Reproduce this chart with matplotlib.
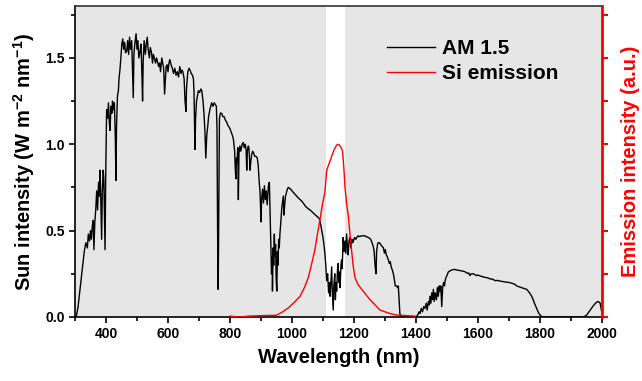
import matplotlib
matplotlib.use("Agg")
import matplotlib.pyplot as plt
from matplotlib.ticker import MultipleLocator, NullFormatter

# AM 1.5 solar spectrum (wavelength nm, W m-2 nm-1)
am15_nm = [300, 305, 310, 320, 330, 335, 340, 343, 347, 350, 353, 356, 359, 361, 364, 367, 370, 373, 376, 379,
           381, 383, 386, 388, 391, 393, 395, 397, 399, 402, 405, 408, 411, 413, 416, 419, 421, 424, 427, 430,
           432, 434, 437, 440, 442, 445, 448, 451, 454, 457, 460, 463, 467, 470, 473, 476, 479, 483, 486, 488,
           490, 493, 497, 500, 503, 506, 510, 513, 516, 518, 520, 523, 527, 530, 533, 536, 540, 543, 547, 550,
           553, 557, 560, 563, 566, 570, 573, 576, 580, 583, 586, 589, 591, 594, 597, 600, 603, 606, 610, 614,
           618, 622, 626, 630, 634, 638, 642, 645, 648, 652, 655, 658, 660, 664, 668, 671, 675, 679, 682, 684,
           687, 689, 692, 695, 698, 702, 706, 709, 713, 716, 719, 722, 725, 728, 731, 735, 738, 741, 745, 749,
           753, 756, 758, 760, 762, 764, 766, 769, 773, 777, 781, 785, 789, 793, 797, 800, 804, 808, 811, 815,
           817, 819, 821, 823, 825, 827, 829, 832, 835, 839, 843, 846, 849, 852, 854, 856, 859, 861, 863, 865,
           867, 870, 873, 876, 880, 884, 888, 891, 894, 897, 900, 902, 905, 908, 911, 914, 917, 920, 924, 927,
           930, 932, 934, 936, 937, 939, 941, 943, 945, 947, 949, 951, 953, 955, 957, 959, 961, 964, 967, 970,
           972, 974, 976, 979, 982, 985, 988, 992, 996, 1000, 1005, 1010, 1015, 1020, 1026, 1032, 1038, 1044, 1050, 1058,
           1064, 1070, 1076, 1082, 1088, 1092, 1096, 1100, 1103, 1106, 1109, 1112, 1115, 1118, 1121, 1123, 1126, 1128, 1130, 1133,
           1135, 1138, 1140, 1142, 1144, 1147, 1149, 1151, 1153, 1155, 1158, 1160, 1162, 1165, 1168, 1171, 1173, 1176, 1179, 1181,
           1184, 1187, 1190, 1193, 1196, 1198, 1202, 1206, 1209, 1213, 1218, 1224, 1230, 1235, 1240, 1246, 1251, 1255, 1258, 1262,
           1265, 1268, 1271, 1273, 1276, 1278, 1282, 1286, 1290, 1295, 1298, 1301, 1304, 1307, 1311, 1314, 1317, 1320, 1324, 1327,
           1330, 1333, 1337, 1341, 1343, 1346, 1348, 1352, 1400, 1405, 1410, 1413, 1417, 1421, 1425, 1429, 1433, 1436, 1440, 1443,
           1445, 1448, 1451, 1454, 1456, 1459, 1462, 1466, 1469, 1472, 1475, 1477, 1480, 1483, 1486, 1489, 1492, 1494, 1497, 1500,
           1504, 1508, 1512, 1516, 1520, 1526, 1532, 1538, 1545, 1553, 1560, 1566, 1570, 1574, 1578, 1585, 1590, 1595, 1600, 1606,
           1612, 1620, 1628, 1634, 1639, 1645, 1650, 1656, 1662, 1671, 1680, 1690, 1700, 1710, 1718, 1725, 1732, 1740, 1748, 1757,
           1764, 1770, 1776, 1782, 1789, 1795, 1800, 1806, 1812, 1940, 1950, 1958, 1966, 1974, 1982, 1988, 1994, 1998, 2000]
am15_val = [0.0, 0.01, 0.06, 0.22, 0.38, 0.43, 0.40, 0.48, 0.44, 0.50, 0.45, 0.53, 0.56, 0.39, 0.55, 0.62, 0.73, 0.62, 0.78, 0.70,
            0.85, 0.68, 0.45, 0.72, 0.85, 0.80, 0.60, 0.39, 0.80, 1.20, 1.15, 1.24, 1.12, 1.08, 1.22, 1.18, 1.25, 1.20, 1.24, 1.05,
            0.79, 1.10, 1.28, 1.31, 1.38, 1.43, 1.50, 1.58, 1.61, 1.55, 1.59, 1.53, 1.54, 1.60, 1.52, 1.62, 1.55, 1.60, 1.40, 1.27,
            1.52, 1.58, 1.64, 1.55, 1.60, 1.50, 1.54, 1.58, 1.40, 1.25, 1.48, 1.60, 1.52, 1.58, 1.62, 1.55, 1.50, 1.56, 1.53, 1.47,
            1.52, 1.49, 1.47, 1.50, 1.48, 1.45, 1.47, 1.42, 1.50, 1.47, 1.44, 1.29, 1.35, 1.45, 1.46, 1.42, 1.47, 1.49, 1.46, 1.44,
            1.41, 1.44, 1.40, 1.42, 1.39, 1.45, 1.41, 1.43, 1.42, 1.38, 1.25, 1.19, 1.33, 1.42, 1.44, 1.43, 1.41, 1.40, 1.38, 1.30,
            0.97, 1.15, 1.25, 1.28, 1.31, 1.30, 1.32, 1.31, 1.25, 1.18, 1.08, 0.92, 1.05, 1.10, 1.16, 1.20, 1.22, 1.24, 1.22, 1.24,
            1.23, 1.22, 1.10, 0.50, 0.16, 0.70, 1.15, 1.18, 1.18, 1.16, 1.16, 1.14, 1.13, 1.11, 1.10, 1.09, 1.07, 1.05, 1.03, 0.96,
            0.86, 0.80, 0.92, 0.90, 0.98, 0.68, 0.95, 0.99, 0.96, 1.00, 1.01, 0.98, 1.00, 0.97, 0.85, 0.96, 0.99, 0.98, 0.92, 0.85,
            0.90, 0.94, 0.96, 0.95, 0.93, 0.93, 0.92, 0.88, 0.79, 0.72, 0.55, 0.68, 0.74, 0.66, 0.76, 0.68, 0.73, 0.65, 0.76, 0.78,
            0.55, 0.40, 0.25, 0.35, 0.15, 0.40, 0.30, 0.48, 0.35, 0.42, 0.22, 0.15, 0.38, 0.30, 0.45, 0.40, 0.48, 0.55, 0.63, 0.67,
            0.70, 0.59, 0.64, 0.70, 0.72, 0.74, 0.75, 0.745, 0.74, 0.73, 0.72, 0.71, 0.70, 0.69, 0.68, 0.67, 0.655, 0.64, 0.63, 0.62,
            0.61, 0.60, 0.59, 0.58, 0.57, 0.54, 0.50, 0.46, 0.42, 0.37, 0.30, 0.21, 0.25, 0.14, 0.20, 0.12, 0.22, 0.29, 0.15, 0.04,
            0.18, 0.25, 0.10, 0.20, 0.15, 0.28, 0.31, 0.20, 0.26, 0.17, 0.30, 0.33, 0.28, 0.46, 0.38, 0.44, 0.37, 0.48, 0.40, 0.36,
            0.44, 0.46, 0.40, 0.45, 0.43, 0.44, 0.46, 0.45, 0.46, 0.47, 0.465, 0.47, 0.47, 0.47, 0.465, 0.46, 0.455, 0.445, 0.43, 0.41,
            0.38, 0.30, 0.25, 0.38, 0.42, 0.43, 0.43, 0.42, 0.41, 0.40, 0.37, 0.39, 0.36, 0.35, 0.33, 0.31, 0.32, 0.29, 0.27, 0.25,
            0.22, 0.18, 0.18, 0.17, 0.18, 0.08, 0.02, 0.0, 0.0, 0.01, 0.03, 0.02, 0.05, 0.03, 0.06, 0.05, 0.08, 0.04, 0.09, 0.07,
            0.12, 0.08, 0.14, 0.10, 0.16, 0.09, 0.14, 0.10, 0.17, 0.12, 0.18, 0.15, 0.18, 0.06, 0.17, 0.20, 0.18, 0.21, 0.23, 0.24,
            0.26, 0.265, 0.27, 0.272, 0.275, 0.275, 0.272, 0.27, 0.268, 0.265, 0.26, 0.252, 0.255, 0.24, 0.25, 0.25, 0.245, 0.24, 0.243, 0.238,
            0.235, 0.23, 0.228, 0.225, 0.22, 0.22, 0.216, 0.21, 0.212, 0.208, 0.205, 0.202, 0.20, 0.195, 0.19, 0.18, 0.175, 0.17, 0.165, 0.16,
            0.145, 0.13, 0.11, 0.08, 0.05, 0.025, 0.012, 0.003, 0.0, 0.0, 0.01, 0.03, 0.05, 0.07, 0.085, 0.09, 0.08, 0.04, 0.02]

# Si emission, normalised to 1 at the peak
si_nm = [800, 830, 860, 900, 950, 970, 990, 1010, 1026, 1040, 1053, 1065, 1074, 1082, 1090, 1098, 1106, 1112, 1120, 1128,
         1136, 1144, 1150, 1155, 1160, 1163, 1167, 1171, 1176, 1182, 1187, 1192, 1197, 1203, 1212, 1225, 1238, 1252, 1268, 1284,
         1300, 1316, 1335, 1348, 1370, 1397]
si_val = [0.005, 0.0, 0.005, 0.008, 0.01, 0.03, 0.055, 0.09, 0.12, 0.17, 0.23, 0.32, 0.39, 0.48, 0.56, 0.65, 0.72, 0.85, 0.89, 0.93,
          0.97, 0.995, 1.0, 0.99, 0.975, 0.96, 0.87, 0.75, 0.66, 0.58, 0.48, 0.39, 0.30, 0.23, 0.19, 0.16, 0.13, 0.10, 0.07, 0.04,
          0.03, 0.02, 0.012, 0.01, 0.008, 0.005]

# unshaded window around the Si band edge
window = (1110, 1170)

plt.rcParams["font.family"] = ["Liberation Sans", "DejaVu Sans"]
plt.rcParams["font.weight"] = "bold"
plt.rcParams["mathtext.fontset"] = "custom"
plt.rcParams["mathtext.rm"] = "Liberation Sans:bold"
plt.rcParams["mathtext.bf"] = "Liberation Sans:bold"
plt.rcParams["mathtext.default"] = "bf"

fig = plt.figure(figsize=(6.42, 3.81), dpi=100)
ax = fig.add_axes([0.1168, 0.168, 0.8209, 0.816])

# grey background except the window
ax.axvspan(300, window[0], color="#e6e6e6", lw=0, zorder=0)
ax.axvspan(window[1], 2000, color="#e6e6e6", lw=0, zorder=0)

l1, = ax.plot(am15_nm, am15_val, color="black", lw=1.0, label="AM 1.5")
ax.set_xlim(300, 2000)
ax.set_ylim(0, 1.8)
ax.xaxis.set_major_locator(MultipleLocator(200))
ax.xaxis.set_minor_locator(MultipleLocator(100))
ax.yaxis.set_major_locator(MultipleLocator(0.5))
ax.yaxis.set_minor_locator(MultipleLocator(0.25))
ax.tick_params(which="both", direction="out", labelsize=10, width=1.2)
ax.tick_params(which="major", length=4)
ax.tick_params(which="minor", length=3)
for lab in ax.get_xticklabels() + ax.get_yticklabels():
    lab.set_fontweight("bold")
ax.set_xlabel("Wavelength (nm)", fontsize=14.5, fontweight="bold", labelpad=5)
ax.set_ylabel(r"Sun intensity (W m$^{-2}$ nm$^{-1}$)", fontsize=14.5, fontweight="bold", labelpad=6)
for s in ["left", "bottom", "top"]:
    ax.spines[s].set_linewidth(1.2)
ax.spines["top"].set_color("#333333")

ax2 = ax.twinx()
l2, = ax2.plot(si_nm, si_val, color="red", lw=1.0, label="Si emission")
ax2.set_ylim(0, 1.8)
ax2.yaxis.set_major_locator(MultipleLocator(0.25))
ax2.yaxis.set_major_formatter(NullFormatter())
ax2.tick_params(axis="y", colors="red", direction="out", length=4, width=1.5)
ax2.spines["right"].set_color("red")
ax2.spines["right"].set_linewidth(2)
for s in ["left", "bottom", "top"]:
    ax2.spines[s].set_visible(False)
ax2.set_ylabel("Emission intensity (a.u.)", color="red", fontsize=14.5, fontweight="bold", labelpad=6)

ax2.legend(handles=[l1, l2], loc="upper left", bbox_to_anchor=(0.586, 0.925),
           bbox_transform=fig.transFigure, frameon=False,
           handlelength=2.3, handletextpad=0.35, labelspacing=0.3, borderpad=0,
           prop={"weight": "bold", "size": 15})

fig.savefig("out.png", dpi=100)
